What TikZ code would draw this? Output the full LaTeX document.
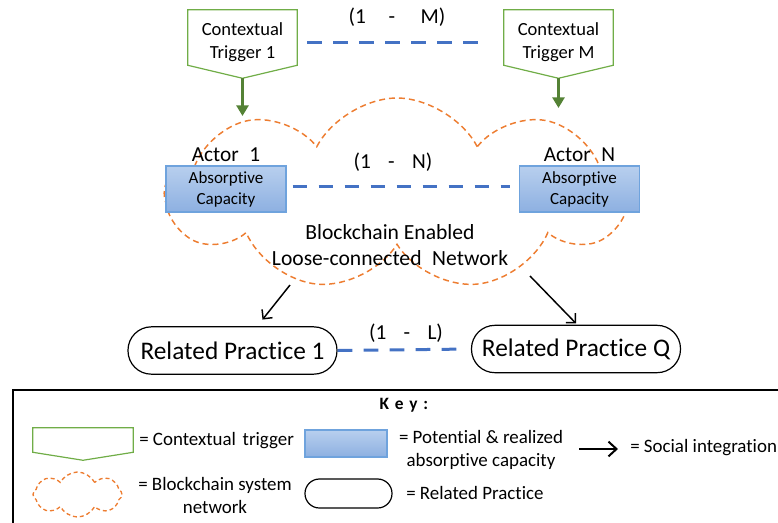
\documentclass[tikz,border=0pt]{standalone}
\usepackage{fontspec}
\setmainfont{Carlito}[Ligatures=NoCommon]
\usetikzlibrary{shapes.symbols,arrows.meta,positioning}

\definecolor{trigGreen}{HTML}{70AD47}
\definecolor{darkGreen}{HTML}{548235}
\definecolor{linkBlue}{HTML}{4472C4}
\definecolor{netOrange}{HTML}{ED7D31}
\definecolor{capTop}{HTML}{B8CFEE}
\definecolor{capBottom}{HTML}{8DB0E1}
\definecolor{capLine}{HTML}{6FA3DD}

\tikzset{
  trigger/.style={minimum width=81.75pt, minimum height=41.25pt, inner sep=0pt}, % outline drawn separately
  trigtext/.style={inner sep=0pt, align=center, font=\fontsize{13.9}{17}\selectfont},
  trigline/.style={draw=trigGreen, line width=0.9pt},
  capbox/.style={draw=capLine, line width=0.8pt, top color=capTop, bottom color=capBottom, minimum width=90pt, minimum height=34.5pt, inner sep=0pt, align=center, font=\fontsize{12.75}{15.75}\selectfont},
  practice/.style={draw, line width=0.9pt, rounded corners=17.5pt, minimum width=156.75pt, minimum height=35.5pt, inner sep=0pt, font=\fontsize{19}{22}\selectfont},
  net/.style={cloud, cloud puffs=9, cloud puff arc=125, draw=netOrange, line width=1.1pt, dash pattern=on 4.5pt off 3pt},
  link/.style={draw=linkBlue, line width=2.25pt, dash pattern=on 11pt off 8.5pt},
  feed/.style={darkGreen, line width=2.4pt, -{Triangle[length=8pt,width=9pt]}},
  social/.style={line width=1.1pt, -{Straight Barb[length=5pt,width=10pt]}},
  big/.style={font=\fontsize{16}{19.5}\selectfont, inner sep=0pt},
  spanlabel/.style={font=\fontsize{16}{19}\selectfont, inner sep=0pt},
  keytext/.style={font=\fontsize{14.2}{17.25}\selectfont, inner sep=0pt, align=center},
}

\begin{document}
\begin{tikzpicture}[x=0.75pt, y=-0.75pt] % 1 unit = 1 pixel, y downwards
  \useasboundingbox (0,0) rectangle (778,522);

  % network cloud
  \node[net, minimum width=346.5pt, minimum height=144pt] (net) at (397,194) {};
  \node[big, align=center, font=\fontsize{16.2}{19.5}\selectfont] (nettext) at (390,245) {Blockchain Enabled\\Loose-connected\hspace{8pt}Network};

  % contextual triggers
  \node[trigger] (trig1) at (242.5,37.5) {};
  \draw[trigline] (trig1.north west) -- (trig1.north east) -- (trig1.south east) -- ([yshift=-9.75pt]trig1.south) -- (trig1.south west) -- cycle;
  \node[trigtext] (trig1text) at (242.5,42) {Contextual\\Trigger 1};
  \node[trigger] (trigM) at (558.5,37.5) {};
  \draw[trigline] (trigM.north west) -- (trigM.north east) -- (trigM.south east) -- ([yshift=-9.75pt]trigM.south) -- (trigM.south west) -- cycle;
  \node[trigtext] (trigMtext) at (558.5,42) {Contextual\\Trigger M};
  \coordinate (in1) at (242.5,116);
  \coordinate (inM) at (558.5,108);
  \draw[feed] ([yshift=-9.75pt]trig1.south) -- (in1);
  \draw[feed] ([yshift=-9.75pt]trigM.south) -- (inM);
  \draw[link, shorten <=7.5pt, shorten >=16.5pt] ([yshift=-3.4pt]trig1.east) -- ([yshift=-3.4pt]trigM.west);
  \node[spanlabel] (labM) at (397,17) {(1\hspace{17pt}-\hspace{19pt}M)};

  % actors
  \node[capbox] (act1) at (226,189) {Absorptive\\Capacity};
  \node[capbox] (actN) at (579.5,189) {Absorptive\\Capacity};
  \node[big, above=3pt of act1.north] (name1) {Actor\hspace{8pt}1};
  \node[big, above=3pt of actN.north] (nameN) {Actor\hspace{8pt}N};
  \draw[link, shorten <=4.5pt, shorten >=6.75pt] ([yshift=2pt]act1.east) -- ([yshift=2pt]actN.west);
  \node[spanlabel] (labN) at (393,162) {(1\hspace{13pt}-\hspace{13pt}N)};

  % related practices
  \node[practice] (rp1) at (232.5,350.5) {Related Practice 1};
  \node[practice] (rpQ) at (576,349) {Related Practice Q};
  \draw[link, shorten >=10.5pt] (rp1.east) -- (rpQ.west);
  \node[spanlabel] (labL) at (406,333) {(1\hspace{13pt}-\hspace{13pt}L)};
  \coordinate (out1) at (290,285);
  \coordinate (outQ) at (530,276);
  \draw[social] (out1) -- ([xshift=22.5pt,yshift=5pt]rp1.north);
  \draw[social] (outQ) -- ([yshift=1pt]rpQ.north);

  % key
  \draw[line width=1pt] (13,390) rectangle (800,540);
  \node[keytext, font=\bfseries\fontsize{13}{16}\selectfont] (keyhead) at (404,405) {K\,\,e\,\,y\,\,:};

  \node[trigger, minimum width=75pt, minimum height=18pt] (keytrig) at (83,440) {};
  \draw[trigline] (keytrig.north west) -- (keytrig.north east) -- (keytrig.south east) -- ([yshift=-6pt]keytrig.south) -- (keytrig.south west) -- cycle;
  \node[keytext, anchor=west] (keytrigtext) at (139,441) {= Contextual\hspace{5pt}trigger};

  \node[capbox, minimum width=61.5pt, minimum height=20.25pt] (keycap) at (346,443.5) {};
  \node[keytext] (keycaptext) at (481,449.5) {= Potential \& realized\\absorptive capacity};

  \coordinate (keyarrA) at (579,449);
  \coordinate (keyarrB) at (618,449);
  \draw[line width=1.5pt, -{Straight Barb[length=6pt,width=11pt]}] (keyarrA) -- (keyarrB);
  \node[keytext, anchor=west] (keysoctext) at (630,448) {= Social integration};

  \node[net, cloud puffs=8, line width=1pt, dash pattern=on 3pt off 2.2pt, minimum width=66.75pt, minimum height=33.75pt] (keynet) at (77.5,494.5) {};
  \node[keytext] (keynettext) at (215,495) {= Blockchain system\\network};

  \node[practice, rounded corners=10.8pt, minimum width=65.25pt, minimum height=21.75pt] (keyrp) at (348.5,493.5) {};
  \node[keytext, anchor=west] (keyrptext) at (406,493) {= Related Practice};
\end{tikzpicture}
\end{document}
